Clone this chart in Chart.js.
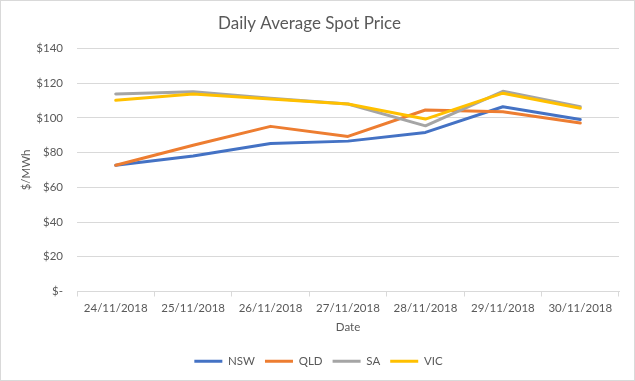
<!DOCTYPE html>
<html>
<head>
<meta charset="utf-8">
<script src="https://cdn.jsdelivr.net/npm/chart.js@4"></script>
<style>
  body { margin: 0; background: #fff; }
  canvas { display: block; }
</style>
</head>
<body>
<canvas id="spot-chart" width="635" height="381"></canvas>
<script>
const dates = ['24/11/2018', '25/11/2018', '26/11/2018', '27/11/2018', '28/11/2018', '29/11/2018', '30/11/2018'];
const nsw = [72.7, 78.0, 85.2, 86.6, 91.6, 106.4, 99.1];
const qld = [72.7, 84.2, 95.1, 89.3, 104.5, 103.5, 97.0];
const sa = [113.8, 115.1, 111.3, 108.0, 95.4, 115.3, 106.4];
const vic = [110.1, 113.8, 110.9, 108.0, 99.3, 114.2, 105.5];
const yTicks = [0, 20, 40, 60, 80, 100, 120, 140];

const textColor = '#595959';
const lineColor = '#d9d9d9';
const font = 'Lato';
const small = 11.5;

// kotak abu-abu di sekeliling gambar, legend digeser sedikit ke tengah
const framePlugin = {
    id: 'frame',
    afterLayout(chart) {
        chart.legend.left += 9;
        chart.legend.right += 9;
    },
    afterDraw(chart) {
        const ctx = chart.ctx;
        ctx.save();
        ctx.strokeStyle = lineColor;
        ctx.lineWidth = 1;
        ctx.strokeRect(0.5, 0.5, chart.width - 1, chart.height - 1);
        ctx.restore();
    }
};

function series(label, data, color, order) {
    return {
        label: label,
        data: data,
        borderColor: color,
        backgroundColor: color,
        borderWidth: 3,
        pointRadius: 0,
        tension: 0,
        borderJoinStyle: 'round',
        borderCapStyle: 'round',
        order: order
    };
}

window.onload = function () {
    const ctx = document.getElementById('spot-chart').getContext('2d');
    new Chart(ctx, {
        type: 'line',
        data: {
            labels: dates,
            datasets: [
                series('NSW', nsw, '#4472C4', 4),
                series('QLD', qld, '#ED7D31', 3),
                series('SA', sa, '#A5A5A5', 2),
                series('VIC', vic, '#FFC000', 1)
            ]
        },
        options: {
            responsive: false,
            animation: false,
            devicePixelRatio: 1,
            layout: { padding: { top: 0, left: 0, right: 16, bottom: 4 } },
            plugins: {
                title: {
                    display: true,
                    text: 'Daily Average Spot Price',
                    color: textColor,
                    font: { family: font, size: 17, weight: 'normal' },
                    padding: { top: 13, bottom: 15 }
                },
                legend: {
                    position: 'bottom',
                    labels: {
                        color: textColor,
                        font: { family: font, size: small },
                        boxWidth: 28,
                        boxHeight: 3,
                        padding: 10,
                        sort: (a, b) => a.datasetIndex - b.datasetIndex,
                        generateLabels(chart) {
                            const items = Chart.defaults.plugins.legend.labels.generateLabels(chart);
                            items.forEach(it => {
                                it.lineWidth = 0;
                                it.fillStyle = it.strokeStyle;
                            });
                            return items;
                        }
                    }
                },
                tooltip: { enabled: false }
            },
            scales: {
                x: {
                    offset: true,
                    grid: {
                        offset: true,
                        drawOnChartArea: false,
                        drawTicks: true,
                        tickLength: 5,
                        color: lineColor
                    },
                    border: { color: lineColor },
                    ticks: {
                        color: textColor,
                        font: { family: font, size: small },
                        padding: 5,
                        maxRotation: 0,
                        autoSkip: false
                    },
                    title: {
                        display: true,
                        text: 'Date',
                        color: textColor,
                        font: { family: font, size: small },
                        padding: { top: 0, bottom: 11 }
                    },
                    afterFit(scale) { scale.height = 54; }
                },
                y: {
                    min: 0,
                    max: 140,
                    afterBuildTicks(scale) {
                        scale.ticks = yTicks.map(v => ({ value: v }));
                    },
                    grid: { color: lineColor, drawTicks: false },
                    border: { display: false },
                    ticks: {
                        color: textColor,
                        font: { family: font, size: small },
                        padding: 14,
                        callback: v => v === 0 ? '$-' : '$' + v
                    },
                    title: {
                        display: true,
                        text: '$/MWh',
                        color: textColor,
                        font: { family: font, size: small },
                        padding: { top: 19, bottom: 0 }
                    },
                    afterFit(scale) { scale.width = 77; }
                }
            }
        },
        plugins: [framePlugin]
    });
};
</script>
</body>
</html>
